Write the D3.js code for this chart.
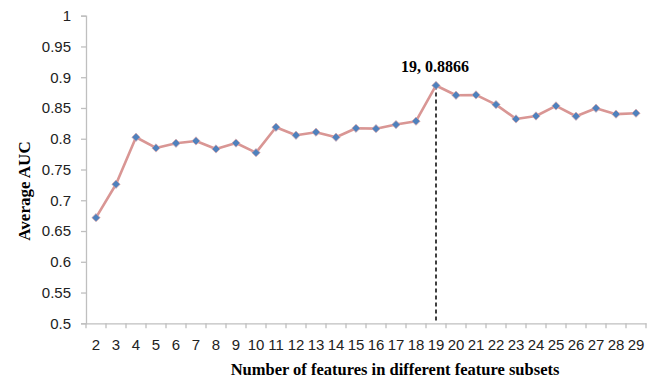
<!DOCTYPE html>
<html>
<head>
<meta charset="utf-8">
<script src="https://cdn.jsdelivr.net/npm/d3@7"></script>
<style>
body{margin:0;background:#fff;}
svg{display:block;}
</style>
</head>
<body>
<svg id="chart" width="652" height="383"></svg>
<script>
const categories = [2,3,4,5,6,7,8,9,10,11,12,13,14,15,16,17,18,19,20,21,22,23,24,25,26,27,28,29];
const aucValues = [0.6717,0.726,0.8024,0.785,0.7927,0.7964,0.7834,0.793,0.7774,0.8187,0.8057,0.8106,0.8024,0.817,0.8164,0.823,0.8285,0.8866,0.8707,0.8712,0.8555,0.8322,0.837,0.8533,0.8366,0.8496,0.84,0.8415];
const yTicks = [0.5,0.55,0.6,0.65,0.7,0.75,0.8,0.85,0.9,0.95,1];
const peakCategory = 19;
const peakLabel = "19, 0.8866";
const xTitle = "Number of features in different feature subsets";
const yTitle = "Average AUC";

(function(){
const svg = d3.select("#chart");
const mLeft = 86, mRight = 646, mTop = 15.7, mBottom = 323.3;
const axisColor = "#BFBFBF";

const x = d3.scaleBand().domain(categories).range([mLeft, mRight]).padding(0);
const y = d3.scaleLinear().domain([0.5, 1]).range([mBottom, mTop]);
const cx = d => x(d) + x.bandwidth() / 2;

// Y axis
const yAxis = svg.append("g").attr("transform", `translate(${mLeft},0)`)
  .call(d3.axisLeft(y).tickValues(yTicks).tickSize(5).tickPadding(10)
    .tickFormat(d => String(+d.toFixed(2))));
yAxis.select(".domain").attr("stroke", axisColor).attr("stroke-width", 1.3);
yAxis.selectAll(".tick line").attr("stroke", axisColor).attr("stroke-width", 1.3);
yAxis.selectAll("text").attr("font-family", "'Liberation Sans', Arial, sans-serif")
  .attr("font-size", 15).attr("fill", "#222");

// X axis labels
const xAxis = svg.append("g").attr("transform", `translate(0,${mBottom})`)
  .call(d3.axisBottom(x).tickSize(0).tickSizeOuter(0).tickPadding(16));
xAxis.select(".domain").attr("stroke", axisColor).attr("stroke-width", 1.3);
xAxis.selectAll("text").attr("font-family", "'Liberation Sans', Arial, sans-serif")
  .attr("font-size", 15).attr("fill", "#222");

// X boundary ticks
const boundaries = categories.map(c => x(c)).concat([x(categories[categories.length-1]) + x.bandwidth()]);
svg.append("g").selectAll("line").data(boundaries).join("line")
  .attr("x1", d => d).attr("x2", d => d)
  .attr("y1", mBottom).attr("y2", mBottom + 5)
  .attr("stroke", axisColor).attr("stroke-width", 1.3);

// Dashed drop line
svg.append("line")
  .attr("x1", cx(peakCategory)).attr("x2", cx(peakCategory))
  .attr("y1", y(aucValues[categories.indexOf(peakCategory)])).attr("y2", mBottom)
  .attr("stroke", "#000").attr("stroke-width", 1.5).attr("stroke-dasharray", "4,3");

// Line
const line = d3.line().x((d, i) => cx(categories[i])).y(d => y(d));
svg.append("path").datum(aucValues)
  .attr("d", line).attr("fill", "none")
  .attr("stroke", "#D99694").attr("stroke-width", 2.6).attr("stroke-linejoin", "round");

// Markers
const sym = d3.symbol().type(d3.symbolDiamond2).size(44);
svg.append("g").selectAll("path").data(aucValues).join("path")
  .attr("d", sym)
  .attr("transform", (d, i) => `translate(${cx(categories[i])},${y(d)})`)
  .attr("fill", "#4F81BD").attr("stroke", "#E3A9A7").attr("stroke-width", 0.7);

// Peak label
svg.append("text")
  .attr("x", cx(peakCategory) - 1).attr("y", 72)
  .attr("text-anchor", "middle")
  .attr("font-family", "'Liberation Serif', 'Times New Roman', serif")
  .attr("font-weight", "bold").attr("font-size", 16)
  .text(peakLabel);

// Axis titles
svg.append("text")
  .attr("x", 395).attr("y", 375)
  .attr("text-anchor", "middle")
  .attr("font-family", "'Liberation Serif', 'Times New Roman', serif")
  .attr("font-weight", "bold").attr("font-size", 16.5)
  .text(xTitle);

svg.append("text")
  .attr("transform", "translate(30,191) rotate(-90)")
  .attr("text-anchor", "middle")
  .attr("font-family", "'Liberation Serif', 'Times New Roman', serif")
  .attr("font-weight", "bold").attr("font-size", 17)
  .text(yTitle);
})();
</script>
</body>
</html>
